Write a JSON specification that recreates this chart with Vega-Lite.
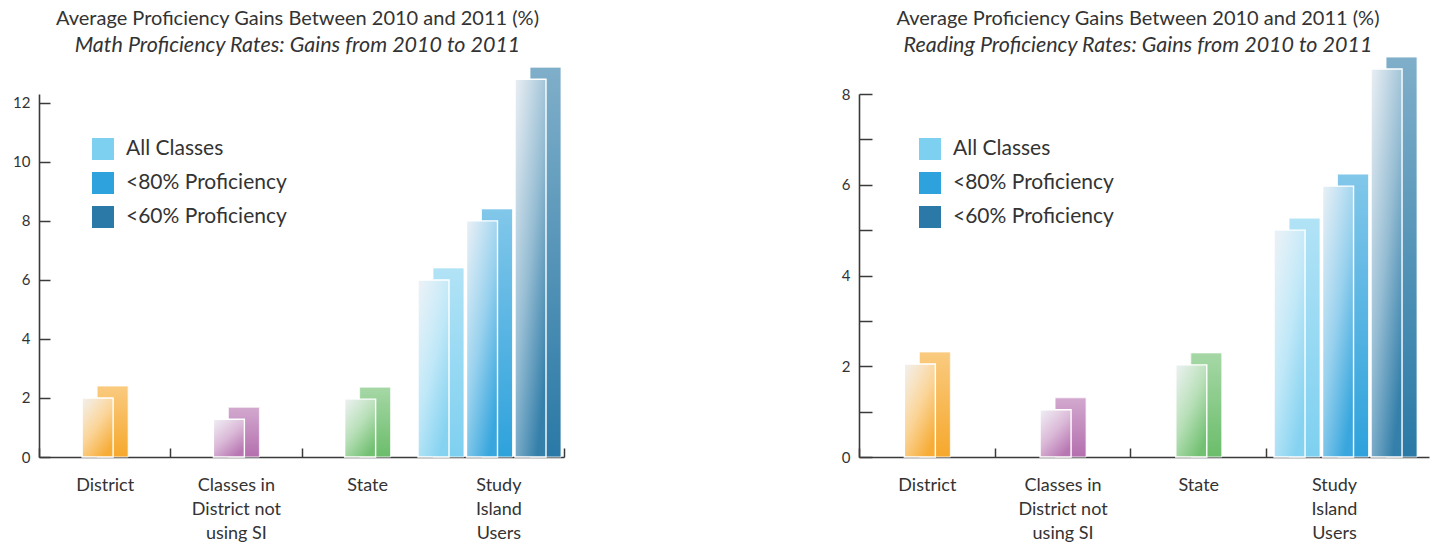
{
  "$schema": "https://vega.github.io/schema/vega-lite/v6.json",
  "background": "white",
  "padding": {"left": 12, "top": 9, "right": 5, "bottom": 0},
  "spacing": 276,
  "config": {
    "view": {"stroke": null},
    "font": "Lato",
    "axis": {"domainColor": "#3a3a3a", "domainWidth": 1.6, "tickColor": "#3a3a3a", "tickWidth": 1.5, "labelColor": "#333333", "labelFont": "Lato", "grid": false, "title": null},
    "legend": {"labelFont": "Lato", "labelFontSize": 21, "labelColor": "#333333", "labelLimit": 400, "symbolType": "square", "symbolSize": 484, "symbolStrokeWidth": 0, "symbolOpacity": 1, "rowPadding": 12, "padding": 0, "labelOffset": 12, "title": null}
  },
  "datasets": {
    "math": [
      {"group": "District", "series": "District", "value": 2.0},
      {"group": "Classes in District not using SI", "series": "Classes in District not using SI", "value": 1.28},
      {"group": "State", "series": "State", "value": 1.96},
      {"group": "Study Island Users", "series": "All Classes", "value": 6.0},
      {"group": "Study Island Users", "series": "<80% Proficiency", "value": 8.0},
      {"group": "Study Island Users", "series": "<60% Proficiency", "value": 12.8}
    ],
    "reading": [
      {"group": "District", "series": "District", "value": 2.05},
      {"group": "Classes in District not using SI", "series": "Classes in District not using SI", "value": 1.04},
      {"group": "State", "series": "State", "value": 2.03},
      {"group": "Study Island Users", "series": "All Classes", "value": 5.0},
      {"group": "Study Island Users", "series": "<80% Proficiency", "value": 5.97},
      {"group": "Study Island Users", "series": "<60% Proficiency", "value": 8.55}
    ]
  },
  "resolve": {"scale": {"x": "independent", "y": "independent", "color": "independent", "xOffset": "independent"}, "legend": {"color": "independent"}},
  "hconcat": [
    {
      "width": 525,
      "height": 363,
      "data": {"name": "math"},
      "title": {"text": "Average Proficiency Gains Between 2010 and 2011 (%)", "subtitle": "Math Proficiency Rates: Gains from 2010 to 2011", "font": "Lato", "subtitleFont": "Lato", "fontSize": 20, "subtitleFontSize": 21.5, "fontWeight": "normal", "subtitleFontStyle": "italic", "color": "#333333", "subtitleColor": "#333333", "anchor": "middle", "frame": "group", "offset": 10, "subtitlePadding": 6, "dx": -4},
      "encoding": {
        "x": {"field": "group", "type": "nominal", "sort": null,
          "scale": {"domain": ["District", "Classes in District not using SI", "State", "Study Island Users"], "paddingInner": 0, "paddingOuter": 0},
          "axis": {"labelAngle": 0, "tickBand": "extent", "tickSize": -9, "labelPadding": 28, "labelFontSize": 18, "labelBaseline": "top", "labelLineHeight": 24,
            "labelExpr": "datum.value == 'Classes in District not using SI' ? ['Classes in', 'District not', 'using SI'] : datum.value == 'Study Island Users' ? ['Study', 'Island', 'Users'] : datum.label"}},
        "y": {"field": "value", "type": "quantitative", "scale": {"domain": [0, 12.3], "nice": false},
          "axis": {"values": [0, 2, 4, 6, 8, 10, 12], "tickSize": -11, "labelPadding": 20, "labelFontSize": 15}},
        "color": {"field": "series", "type": "nominal",
          "scale": {"domain": ["District", "Classes in District not using SI", "State", "All Classes", "<80% Proficiency", "<60% Proficiency"], "range": ["#f6a82c", "#b46fae", "#6bbd6b", "#7ed0f0", "#2ea2dc", "#2a79a6"]},
          "legend": {"values": ["All Classes", "<80% Proficiency", "<60% Proficiency"], "orient": "none", "legendX": 53, "legendY": 44}}
      },
      "layer": [
        {
          "transform": [{"filter": "datum.group != 'Study Island Users'"}],
          "layer": [
            {"mark": {"type": "bar", "width": 31, "xOffset": 8, "yOffset": -12, "stroke": "white", "strokeWidth": 1, "strokeOpacity": 0.8}, "encoding": {"y2": {"datum": 0}}},
            {"mark": {"type": "bar", "width": 31, "xOffset": 8, "yOffset": -12}, "encoding": {"y2": {"datum": 0}, "color": {"value": {"gradient": "linear", "x1": 0, "y1": 0, "x2": 0, "y2": 1, "stops": [{"offset": 0, "color": "rgba(255,255,255,0.4)"}, {"offset": 1, "color": "rgba(255,255,255,0)"}]}}}},
            {"mark": {"type": "bar", "width": 31, "xOffset": -7}},
            {"mark": {"type": "bar", "width": 31, "xOffset": -7, "stroke": "white", "strokeWidth": 1.4}, "encoding": {"color": {"value": {"gradient": "linear", "x1": 0, "y1": 0, "x2": 0.7, "y2": 1, "stops": [{"offset": 0, "color": "rgba(240,242,246,0.97)"}, {"offset": 0.55, "color": "rgba(255,255,255,0.5)"}, {"offset": 1, "color": "rgba(255,255,255,0.05)"}]}}}}
          ]
        },
        {
          "transform": [{"filter": "datum.group == 'Study Island Users'"}],
          "resolve": {"scale": {"xOffset": "independent"}},
          "layer": [
            {
              "encoding": {"y2": {"datum": 0}, "xOffset": {"field": "series", "type": "nominal", "sort": null, "scale": {"domain": ["All Classes", "<80% Proficiency", "<60% Proficiency"], "range": [-8.5, 137], "paddingInner": 0, "paddingOuter": 0}}},
              "layer": [
                {"mark": {"type": "bar", "width": 31, "yOffset": -12, "stroke": "white", "strokeWidth": 1, "strokeOpacity": 0.8}},
                {"mark": {"type": "bar", "width": 31, "yOffset": -12}, "encoding": {"color": {"value": {"gradient": "linear", "x1": 0, "y1": 0, "x2": 0, "y2": 1, "stops": [{"offset": 0, "color": "rgba(255,255,255,0.4)"}, {"offset": 1, "color": "rgba(255,255,255,0)"}]}}}}
              ]
            },
            {
              "encoding": {"xOffset": {"field": "series", "type": "nominal", "sort": null, "scale": {"domain": ["All Classes", "<80% Proficiency", "<60% Proficiency"], "range": [-23.5, 122], "paddingInner": 0, "paddingOuter": 0}}},
              "layer": [
                {"mark": {"type": "bar", "width": 31}},
                {"mark": {"type": "bar", "width": 31, "stroke": "white", "strokeWidth": 1.4}, "encoding": {"color": {"value": {"gradient": "linear", "x1": 0, "y1": 0, "x2": 0.7, "y2": 1, "stops": [{"offset": 0, "color": "rgba(240,242,246,0.97)"}, {"offset": 0.55, "color": "rgba(255,255,255,0.5)"}, {"offset": 1, "color": "rgba(255,255,255,0.05)"}]}}}}
              ]
            }
          ]
        }
      ]
    },
    {
      "width": 570,
      "height": 363,
      "data": {"name": "reading"},
      "title": {"text": "Average Proficiency Gains Between 2010 and 2011 (%)", "subtitle": "Reading Proficiency Rates: Gains from 2010 to 2011", "font": "Lato", "subtitleFont": "Lato", "fontSize": 20, "subtitleFontSize": 21.5, "fontWeight": "normal", "subtitleFontStyle": "italic", "color": "#333333", "subtitleColor": "#333333", "anchor": "middle", "frame": "group", "offset": 0, "subtitlePadding": 6, "dx": -6},
      "encoding": {
        "x": {"field": "group", "type": "nominal", "sort": null,
          "scale": {"domain": ["District", "Classes in District not using SI", "State", "Study Island Users"], "paddingInner": 0, "paddingOuter": 0.1, "align": 0},
          "axis": {"labelAngle": 0, "tickBand": "extent", "tickSize": -9, "labelPadding": 28, "labelFontSize": 18, "labelBaseline": "top", "labelLineHeight": 24,
            "labelExpr": "datum.value == 'Classes in District not using SI' ? ['Classes in', 'District not', 'using SI'] : datum.value == 'Study Island Users' ? ['Study', 'Island', 'Users'] : datum.label"}},
        "y": {"field": "value", "type": "quantitative", "scale": {"domain": [0, 8], "nice": false},
          "axis": {"values": [0, 1, 2, 3, 4, 5, 6, 7, 8], "labelExpr": "datum.value % 2 == 0 ? datum.label : ''", "tickSize": -13, "labelPadding": 22, "labelFontSize": 15}},
        "color": {"field": "series", "type": "nominal",
          "scale": {"domain": ["District", "Classes in District not using SI", "State", "All Classes", "<80% Proficiency", "<60% Proficiency"], "range": ["#f6a82c", "#b46fae", "#6bbd6b", "#7ed0f0", "#2ea2dc", "#2a79a6"]},
          "legend": {"values": ["All Classes", "<80% Proficiency", "<60% Proficiency"], "orient": "none", "legendX": 60, "legendY": 44}}
      },
      "layer": [
        {
          "transform": [{"filter": "datum.group != 'Study Island Users'"}],
          "layer": [
            {"mark": {"type": "bar", "width": 31, "xOffset": 8, "yOffset": -12, "stroke": "white", "strokeWidth": 1, "strokeOpacity": 0.8}, "encoding": {"y2": {"datum": 0}}},
            {"mark": {"type": "bar", "width": 31, "xOffset": 8, "yOffset": -12}, "encoding": {"y2": {"datum": 0}, "color": {"value": {"gradient": "linear", "x1": 0, "y1": 0, "x2": 0, "y2": 1, "stops": [{"offset": 0, "color": "rgba(255,255,255,0.4)"}, {"offset": 1, "color": "rgba(255,255,255,0)"}]}}}},
            {"mark": {"type": "bar", "width": 31, "xOffset": -7}},
            {"mark": {"type": "bar", "width": 31, "xOffset": -7, "stroke": "white", "strokeWidth": 1.4}, "encoding": {"color": {"value": {"gradient": "linear", "x1": 0, "y1": 0, "x2": 0.7, "y2": 1, "stops": [{"offset": 0, "color": "rgba(240,242,246,0.97)"}, {"offset": 0.55, "color": "rgba(255,255,255,0.5)"}, {"offset": 1, "color": "rgba(255,255,255,0.05)"}]}}}}
          ]
        },
        {
          "transform": [{"filter": "datum.group == 'Study Island Users'"}],
          "resolve": {"scale": {"xOffset": "independent"}},
          "layer": [
            {
              "encoding": {"y2": {"datum": 0}, "xOffset": {"field": "series", "type": "nominal", "sort": null, "scale": {"domain": ["All Classes", "<80% Proficiency", "<60% Proficiency"], "range": [14.15, 159.65], "paddingInner": 0, "paddingOuter": 0}}},
              "layer": [
                {"mark": {"type": "bar", "width": 31, "yOffset": -12, "stroke": "white", "strokeWidth": 1, "strokeOpacity": 0.8}},
                {"mark": {"type": "bar", "width": 31, "yOffset": -12}, "encoding": {"color": {"value": {"gradient": "linear", "x1": 0, "y1": 0, "x2": 0, "y2": 1, "stops": [{"offset": 0, "color": "rgba(255,255,255,0.4)"}, {"offset": 1, "color": "rgba(255,255,255,0)"}]}}}}
              ]
            },
            {
              "encoding": {"xOffset": {"field": "series", "type": "nominal", "sort": null, "scale": {"domain": ["All Classes", "<80% Proficiency", "<60% Proficiency"], "range": [-0.85, 144.65], "paddingInner": 0, "paddingOuter": 0}}},
              "layer": [
                {"mark": {"type": "bar", "width": 31}},
                {"mark": {"type": "bar", "width": 31, "stroke": "white", "strokeWidth": 1.4}, "encoding": {"color": {"value": {"gradient": "linear", "x1": 0, "y1": 0, "x2": 0.7, "y2": 1, "stops": [{"offset": 0, "color": "rgba(240,242,246,0.97)"}, {"offset": 0.55, "color": "rgba(255,255,255,0.5)"}, {"offset": 1, "color": "rgba(255,255,255,0.05)"}]}}}}
              ]
            }
          ]
        }
      ]
    }
  ]
}
